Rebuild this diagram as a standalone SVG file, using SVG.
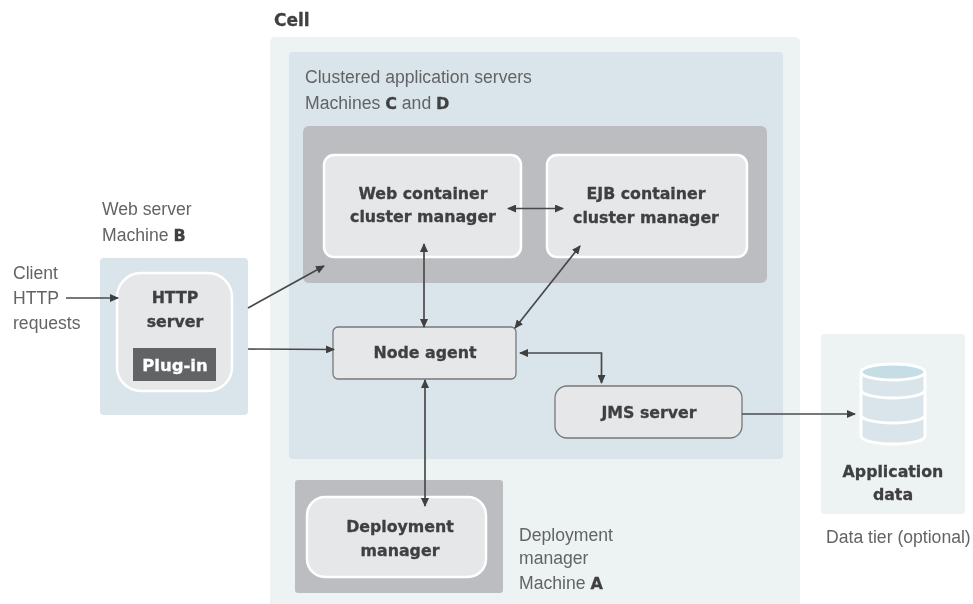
<svg xmlns="http://www.w3.org/2000/svg" width="973" height="604" viewBox="0 0 973 604">
<style>
text{font-family:"Liberation Sans",Arial,sans-serif;font-size:17.6px;fill:#636466}
.b{font-family:"DejaVu Sans",Verdana,sans-serif;font-weight:bold;font-size:15.8px;fill:#3f3f41;stroke:#3f3f41;stroke-width:.3;text-anchor:middle}
.k{font-family:"DejaVu Sans",Verdana,sans-serif;font-weight:bold;font-size:16px;fill:#3f3f41;stroke:#3f3f41;stroke-width:.3}
.c{fill:none;stroke:#4a4a4c;stroke-width:1.7}
.i{fill:#e6e7e8;stroke:#fff;stroke-width:2.5}
.o{fill:#e6e7e8;stroke:#77787b;stroke-width:1.3}
.g{fill:#bcbdc0}
.l{fill:#d9e5ea}
.p{fill:#edf3f3}
.w{fill:none;stroke:#fff;stroke-width:3}
</style>
<defs>
<marker id="a" markerWidth="9" markerHeight="8" refX="8" refY="4" orient="auto-start-reverse" markerUnits="userSpaceOnUse"><path d="M0 0L9 4L0 8Z" fill="#3f3f41"/></marker>
<filter id="s" x="0" y="0" width="100%" height="100%"><feGaussianBlur stdDeviation="0.5"/></filter>
</defs>
<g filter="url(#s)">
<rect width="973" height="604" fill="#fff"/>
<g id="cell">
<rect class="p" x="270" y="37" width="530" height="580" rx="5"/>
<text class="k" x="274" y="26" style="font-size:17px">Cell</text>
</g>
<g id="clustered-servers">
<rect class="l" x="289" y="52" width="494" height="407" rx="4"/>
<text x="305" y="83">Clustered application servers</text>
<text x="305" y="109">Machines <tspan class="k">C</tspan> and <tspan class="k">D</tspan></text>
<rect class="g" x="303" y="126" width="464" height="157" rx="6"/>
</g>
<g id="web-container">
<rect class="i" x="324" y="155" width="197" height="102" rx="10"/>
<text class="b" x="423" y="199">Web container</text>
<text class="b" x="423" y="222">cluster manager</text>
</g>
<g id="ejb-container">
<rect class="i" x="547" y="155" width="200" height="102" rx="10"/>
<text class="b" x="646" y="199">EJB container</text>
<text class="b" x="646" y="223">cluster manager</text>
</g>
<g id="web-server">
<rect class="l" x="100" y="258" width="148" height="157" rx="4"/>
<text x="102" y="215">Web server</text>
<text x="102" y="241">Machine <tspan class="k">B</tspan></text>
<rect class="i" x="117" y="273" width="115" height="118" rx="24"/>
<text class="b" x="175" y="303">HTTP</text>
<text class="b" x="175" y="327">server</text>
<rect x="133" y="348" width="83" height="33" fill="#626365"/>
<text class="b" x="175" y="371" style="fill:#fff;stroke:#fff;font-size:16.5px">Plug-in</text>
</g>
<g id="client"><text x="13" y="279">Client</text><text x="13" y="304">HTTP</text><text x="13" y="329">requests</text></g>
<g id="node-agent">
<rect class="o" x="333" y="327" width="183" height="52" rx="5"/>
<text class="b" x="425" y="358">Node agent</text>
</g>
<g id="jms-server">
<rect class="o" x="555" y="386" width="187" height="52" rx="12"/>
<text class="b" x="649" y="418">JMS server</text>
</g>
<g id="deployment-manager">
<rect class="g" x="295" y="480" width="208" height="113" rx="3"/>
<rect class="i" x="307" y="497" width="179" height="80" rx="18"/>
<text class="b" x="400" y="532">Deployment</text>
<text class="b" x="400" y="556">manager</text>
<text x="519" y="541">Deployment</text>
<text x="519" y="564">manager</text>
<text x="519" y="589">Machine <tspan class="k">A</tspan></text>
</g>
<g id="data-tier">
<rect class="p" x="821" y="334" width="144" height="180" rx="4"/>
<path class="w" d="M861 372V436A32 8 0 0 0 925 436V372" style="fill:#d9e5ea"/>
<ellipse cx="893" cy="372" rx="32" ry="8" fill="#c5dde4" stroke="#fff" stroke-width="3"/>
<path class="w" d="M861 390A32 8 0 0 0 925 390M861 415A32 8 0 0 0 925 415"/>
<text class="b" x="893" y="477">Application</text>
<text class="b" x="893" y="500">data</text>
<text x="826" y="543">Data tier (optional)</text>
</g>
<g id="connectors">
<path class="c" marker-end="url(#a)" d="M66 298H118"/>
<path class="c" marker-end="url(#a)" d="M248 308L324 266"/>
<path class="c" marker-end="url(#a)" d="M248 349L334 349.500"/>
<path class="c" marker-start="url(#a)" marker-end="url(#a)" d="M508 208.500H563"/>
<path class="c" marker-start="url(#a)" marker-end="url(#a)" d="M424 244L424 327"/>
<path class="c" marker-start="url(#a)" marker-end="url(#a)" d="M580 246L515 328"/>
<path class="c" marker-start="url(#a)" marker-end="url(#a)" d="M520 353H601.500V383"/>
<path class="c" marker-start="url(#a)" marker-end="url(#a)" d="M425 380V506"/>
<path class="c" marker-end="url(#a)" d="M742 414H855"/>
</g>
</g>
</svg>
